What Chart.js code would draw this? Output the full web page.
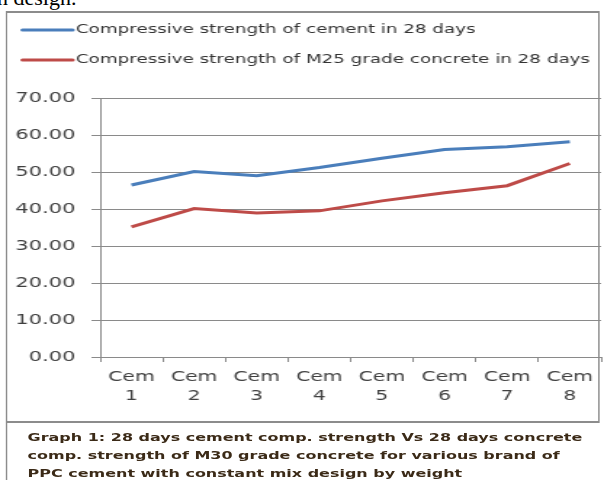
<!DOCTYPE html>
<html>
<head>
<meta charset="utf-8">
<title>Cement vs concrete strength</title>
<script src="https://cdn.jsdelivr.net/npm/chart.js@4.4.1/dist/chart.umd.min.js"></script>
<style>
    html, body { margin: 0; padding: 0; background: #fff; }
    #page { position: relative; width: 604px; height: 480px; overflow: hidden; }
    .heading {
        position: absolute; left: -3px; top: -15px;
        font-family: 'Liberation Serif', serif; font-size: 22px; color: #000;
    }
    /* the figure is laid out 416px wide and widened to the full 604px */
    #figure {
        position: absolute; left: 0; top: 0; width: 416px; height: 480px;
        transform: scaleX(1.4519); transform-origin: 0 0;
    }
    .frame {
        position: absolute; left: 4px; top: 11px; width: 407px; height: 408px;
        border-style: solid; border-color: #8c8c8c;
        border-width: 2px 1.4px;
    }
    .caption {
        position: absolute; left: 4px; top: 423px; width: 412px; height: 60px;
        border-left: 1.4px solid #8c8c8c;
    }
    .caption p {
        margin: 0; padding: 6px 0 0 14px;
        font-family: 'DejaVu Sans', sans-serif; font-size: 11px; font-weight: bold;
        line-height: 18px; color: #3b2a17; white-space: nowrap;
    }
    #chart-box { position: absolute; left: 0; top: 0; width: 416px; height: 480px; }
</style>
</head>
<body>
<div id="page">
    <div class="heading">n design.</div>
    <div id="figure">
        <div class="frame"></div>
        <div class="caption">
            <p>Graph 1: 28 days cement comp. strength Vs 28 days concrete<br>
            comp. strength of M30 grade concrete for various brand of<br>
            PPC cement with constant mix design by weight</p>
        </div>
        <div id="chart-box"><canvas id="strength-chart" width="416" height="480"></canvas></div>
    </div>
</div>
<script>
// 28-day strengths (N/mm2) for the eight cement brands
const brands = [['Cem', '1'], ['Cem', '2'], ['Cem', '3'], ['Cem', '4'],
                ['Cem', '5'], ['Cem', '6'], ['Cem', '7'], ['Cem', '8']];
const cementStrength = [46.5, 50.1, 49.0, 51.2, 53.7, 56.1, 56.8, 58.2];
const concreteStrength = [35.2, 40.1, 38.9, 39.5, 42.2, 44.4, 46.3, 52.3];
const seriesNames = [
    'Compressive strength of cement in 28 days',
    'Compressive strength of M25 grade concrete in 28 days'
];
const yTicks = [0, 10, 20, 30, 40, 50, 60, 70];

const colors = {
    blue: '#4a7ebb',
    red: '#be4b48',
    grid: '#8a8a8a',
    text: '#404040'
};

// legend stacked in the upper part of the frame, line sample then label
const stackedLegend = {
    id: 'stackedLegend',
    afterDraw(chart) {
        const ctx = chart.ctx;
        ctx.save();
        ctx.font = '12.6px "DejaVu Sans", sans-serif';
        ctx.textBaseline = 'middle';
        chart.data.datasets.forEach((ds, i) => {
            const y = 30 + i * 30;
            ctx.strokeStyle = ds.borderColor;
            ctx.lineWidth = 3;
            ctx.lineCap = 'round';
            ctx.beginPath();
            ctx.moveTo(15.5, y);
            ctx.lineTo(50, y);
            ctx.stroke();
            ctx.fillStyle = '#333';
            ctx.fillText(ds.label, 52.3, y);
        });
        ctx.restore();
    }
};

const ctx = document.getElementById('strength-chart').getContext('2d');
new Chart(ctx, {
    type: 'line',
    data: {
        labels: brands,
        datasets: [{
            label: seriesNames[0],
            data: cementStrength,
            borderColor: colors.blue,
            borderWidth: 3,
            pointRadius: 0,
            tension: 0
        }, {
            label: seriesNames[1],
            data: concreteStrength,
            borderColor: colors.red,
            borderWidth: 3,
            pointRadius: 0,
            tension: 0
        }]
    },
    options: {
        responsive: false,
        animation: false,
        layout: { padding: { left: 0, top: 98, right: 2, bottom: 60 } },
        plugins: {
            legend: { display: false },
            tooltip: { enabled: false }
        },
        scales: {
            x: {
                offset: true,
                grid: {
                    offset: true,
                    drawOnChartArea: false,
                    tickLength: 5,
                    color: colors.grid
                },
                border: { color: colors.grid, width: 1 },
                ticks: {
                    color: colors.text,
                    padding: 6,
                    maxRotation: 0,
                    font: { size: 14, family: '"DejaVu Sans", sans-serif', lineHeight: 1.36 }
                },
                afterFit(scale) { scale.height = 63; }
            },
            y: {
                min: yTicks[0],
                max: yTicks[yTicks.length - 1],
                afterBuildTicks(scale) {
                    scale.ticks = yTicks.map(v => ({ value: v }));
                },
                grid: { color: colors.grid, tickLength: 6 },
                border: { color: colors.grid, width: 1 },
                ticks: {
                    color: colors.text,
                    padding: 11,
                    font: { size: 14.5, family: '"DejaVu Sans", sans-serif' },
                    callback: v => Number(v).toFixed(2)
                },
                afterFit(scale) { scale.width = 69; }
            }
        }
    },
    plugins: [stackedLegend]
});
</script>
</body>
</html>
